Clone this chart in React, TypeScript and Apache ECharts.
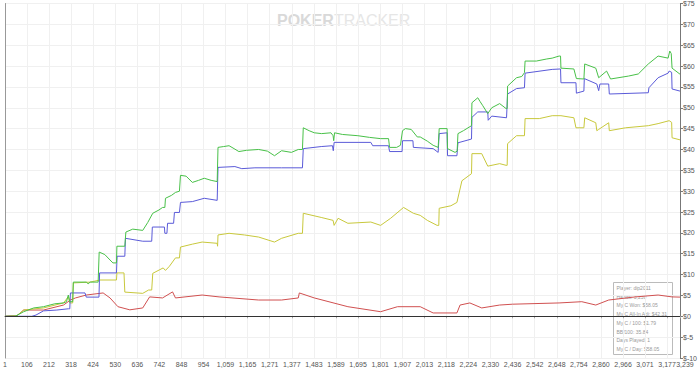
import React, { useEffect, useRef } from "react";
import * as echarts from "echarts";

const xTicks = [1, 106, 212, 318, 424, 530, 636, 742, 848, 954, 1059, 1165, 1271, 1377, 1483, 1589, 1695, 1801, 1907, 2013, 2118, 2224, 2330, 2436, 2542, 2648, 2754, 2860, 2966, 3071, 3177, 3239];
const yMin = -10;
const yMax = 75;
const yStep = 5;

const wonData: [number, number][] = [
  [1, 0], [50, 0], [91, 1.1], [139, 2.0], [186, 2.3], [240, 3.0], [282, 3.2], [296, 3.5], [305, 5.1], [312, 3.5], [326, 3.5], [329, 8.2],
  [391, 8.2], [400, 7.8], [410, 8.2], [448, 8.2], [453, 15.4], [480, 14.8], [505, 13.5], [519, 12.8], [536, 12.8], [538, 16.8],
  [576, 16.8], [581, 20.2], [614, 20.9], [662, 20.6], [686, 22.5], [710, 24.7], [740, 25.5], [757, 26.1], [768, 26.1], [771, 28.3],
  [800, 29.0], [819, 29.7], [838, 30.0], [843, 33.8], [870, 33.6], [900, 32.1], [930, 32.6], [957, 33.1], [990, 32.6], [1019, 32.3],
  [1021, 32.3], [1023, 40.5], [1050, 40.7], [1076, 40.9], [1100, 40.2], [1123, 39.5], [1160, 39.8], [1218, 40.0], [1260, 39.6],
  [1294, 38.5], [1328, 39.7], [1375, 39.3], [1408, 40.0], [1428, 40.0], [1432, 45.2], [1460, 44.5], [1485, 44.0], [1520, 43.8],
  [1565, 44.0], [1575, 43.3], [1578, 42.1], [1582, 44.0], [1620, 43.6], [1694, 43.3], [1750, 42.9], [1803, 42.6], [1841, 42.6],
  [1846, 40.5], [1880, 40.5], [1898, 41.0], [1908, 44.5], [1922, 45.0], [1950, 44.8], [1979, 43.0], [1993, 43.0], [2027, 42.0],
  [2055, 41.0], [2079, 40.5], [2082, 40.5], [2084, 45.0], [2122, 45.0], [2124, 40.2], [2160, 39.3], [2170, 39.6], [2174, 43.8],
  [2200, 44.5], [2239, 45.7], [2241, 51.2], [2269, 52.4], [2280, 51.5], [2293, 50.5], [2317, 48.6], [2336, 50.0], [2374, 51.0],
  [2405, 49.8], [2410, 49.8], [2412, 55.2], [2455, 57.2], [2480, 57.5], [2493, 58.4], [2496, 61.2], [2550, 61.2], [2600, 61.7],
  [2626, 61.9], [2659, 62.4], [2666, 62.4], [2668, 59.5], [2730, 59.3], [2742, 57.0], [2778, 56.9], [2780, 56.9], [2782, 60.5],
  [2835, 59.5], [2849, 57.2], [2887, 58.8], [2906, 56.9], [2992, 57.6], [3039, 58.1], [3087, 60.5], [3134, 62.4], [3182, 61.9],
  [3190, 63.6], [3197, 63.0], [3201, 59.5], [3239, 58.05],
];

const showdownData: [number, number][] = [
  [1, 0], [130, 0], [150, 0.3], [186, 1.3], [250, 1.5], [305, 1.8], [312, 1.8], [315, 5.6], [385, 5.6], [391, 4.6], [452, 4.6],
  [455, 10.4], [536, 10.4], [539, 14.4], [576, 14.4], [579, 18.7], [662, 18.0], [705, 18.0], [708, 21.4], [766, 21.4], [768, 19.9],
  [778, 19.9], [781, 22.3], [810, 22.3], [814, 24.9], [838, 24.9], [843, 27.3], [900, 27.5], [957, 28.3], [1019, 27.8], [1021, 27.8],
  [1023, 35.7], [1104, 35.9], [1137, 35.4], [1200, 35.6], [1328, 35.6], [1428, 35.6], [1432, 40.2], [1518, 40.7], [1572, 40.9],
  [1576, 39.7], [1580, 41.7], [1756, 41.7], [1765, 40.9], [1841, 40.9], [1846, 39.5], [1906, 39.5], [1908, 42.1], [1958, 42.1],
  [1960, 40.5], [2055, 40.2], [2079, 39.3], [2082, 39.3], [2084, 43.8], [2122, 44.0], [2124, 38.5], [2169, 38.5], [2174, 41.6],
  [2239, 42.5], [2241, 47.7], [2269, 49.0], [2317, 49.0], [2319, 47.0], [2336, 48.0], [2407, 47.6], [2410, 47.6], [2412, 53.3],
  [2455, 54.6], [2493, 54.8], [2496, 58.3], [2626, 59.2], [2666, 59.3], [2668, 56.0], [2740, 56.0], [2742, 53.5], [2778, 54.0],
  [2780, 57.0], [2840, 55.7], [2849, 54.1], [2855, 55.7], [2897, 55.7], [2900, 53.3], [3087, 53.6], [3090, 54.8], [3134, 57.2],
  [3182, 58.3], [3187, 58.8], [3199, 58.5], [3201, 54.5], [3239, 54.0],
];

const allInAdjData: [number, number][] = [
  [1, 0], [60, 0.2], [91, 1.5], [186, 2.0], [282, 3.2], [305, 4.7], [312, 3.2], [326, 3.2], [329, 8.0], [410, 8.2], [457, 8.7],
  [536, 8.7], [538, 10.4], [572, 10.4], [576, 5.8], [662, 5.5], [690, 6.3], [705, 6.3], [710, 10.3], [760, 11.6], [771, 11.0],
  [790, 12.0], [819, 14.0], [838, 14.0], [843, 16.6], [900, 17.3], [947, 17.8], [1019, 17.5], [1021, 16.8], [1023, 19.5],
  [1076, 19.9], [1150, 19.5], [1218, 19.0], [1294, 17.8], [1328, 18.7], [1408, 19.9], [1428, 19.9], [1432, 24.7], [1518, 23.7],
  [1575, 23.0], [1580, 21.8], [1599, 23.5], [1646, 22.3], [1756, 22.6], [1803, 21.8], [1851, 23.5], [1913, 26.1], [1960, 24.7],
  [1993, 24.2], [2027, 23.0], [2074, 21.8], [2082, 21.8], [2084, 25.9], [2140, 26.5], [2169, 27.3], [2193, 32.5], [2239, 34.2],
  [2241, 39.0], [2288, 39.0], [2317, 36.0], [2374, 36.6], [2405, 36.2], [2410, 36.2], [2412, 41.4], [2455, 43.3], [2493, 43.3],
  [2496, 47.4], [2564, 47.4], [2626, 48.1], [2668, 48.1], [2730, 47.6], [2740, 45.2], [2778, 45.2], [2782, 47.6], [2835, 46.4],
  [2840, 44.5], [2849, 44.8], [2897, 46.4], [2900, 44.5], [2978, 45.2], [3087, 45.7], [3134, 46.2], [3187, 46.9], [3199, 46.5],
  [3201, 42.8], [3239, 42.31],
];

const nonShowdownData: [number, number][] = [
  [1, 0], [60, 0.2], [91, 1.5], [186, 1.5], [282, 2.7], [315, 3.9], [339, 4.4], [391, 5.1], [472, 5.6], [505, 4.4], [543, 2.3],
  [600, 1.55], [662, 2.0], [695, 4.65], [757, 4.4], [805, 5.85], [819, 4.4], [947, 5.1], [1028, 4.65], [1218, 3.9], [1328, 3.9],
  [1408, 4.4], [1413, 5.6], [1485, 4.4], [1646, 2.3], [1803, 1.1], [1884, 2.3], [1993, 2.3], [2055, 0.8], [2169, 0.8], [2184, 2.7],
  [2231, 3.2], [2288, 2.0], [2374, 2.7], [2436, 2.9], [2659, 3.2], [2768, 3.5], [2835, 2.7], [2897, 3.9], [3025, 4.65], [3134, 5.1],
  [3201, 4.65], [3239, 4.6],
];

const statLines = [
  "Player: dip2011",
  "Hands: 3,239",
  "My C Won: $58.05",
  "My C All-In Adj: $42.31",
  "My C / 100: $1.79",
  "BB/100: 35.84",
  "Days Played: 1",
  "My C / Day: $58.05",
];

const FONT = "'Liberation Sans', Arial, sans-serif";
const fmtHand = (v: number) => Math.round(v).toLocaleString("en-US");

export default function App() {
  const ref = useRef<HTMLDivElement>(null);
  useEffect(() => {
    document.body.style.margin = "0";
    const chart = echarts.init(ref.current!, null, { renderer: "svg" });
    const lineSeries = (name: string, data: [number, number][], color: string, extra: any = {}) => ({
      name,
      type: "line",
      data,
      showSymbol: false,
      symbol: "none",
      lineStyle: { color, width: 1 },
      itemStyle: { color },
      silent: true,
      ...extra,
    });
    const lastTick = xTicks[xTicks.length - 1];
    chart.setOption({
      animation: false,
      backgroundColor: "#ffffff",
      textStyle: { fontFamily: FONT },
      grid: { left: 1, right: 18, top: 1, bottom: 12, containLabel: false },
      xAxis: {
        type: "value",
        min: xTicks[0],
        max: lastTick,
        axisLine: { show: true, lineStyle: { color: "#999999", width: 1 } },
        axisTick: { show: true, customValues: xTicks, length: 2, lineStyle: { color: "#aaaaaa" } },
        axisLabel: {
          customValues: xTicks.slice(0, -1),
          fontSize: 7,
          color: "#555555",
          margin: 3,
          fontFamily: FONT,
          hideOverlap: false,
          showMinLabel: true,
          formatter: fmtHand,
        },
        splitLine: { show: true, lineStyle: { color: "#f0f0f0", width: 1 } },
      },
      yAxis: [
        {
          type: "value",
          position: "right",
          min: yMin,
          max: yMax,
          interval: yStep,
          axisLine: { show: true, lineStyle: { color: "#777777", width: 1 } },
          axisTick: { show: true, length: 3, lineStyle: { color: "#777777" } },
          axisLabel: {
            fontSize: 7,
            color: "#555555",
            margin: 3,
            fontFamily: FONT,
            showMinLabel: true,
            showMaxLabel: true,
            formatter: (v: number) => "$" + v,
          },
          splitLine: { show: true, lineStyle: { color: "#f0f0f0", width: 1 } },
        },
        {
          type: "value",
          position: "left",
          min: yMin,
          max: yMax,
          interval: yStep,
          axisLine: { show: true, lineStyle: { color: "#999999", width: 1 } },
          axisTick: { show: false },
          axisLabel: { show: false },
          splitLine: { show: false },
        },
      ],
      series: [
        lineSeries("Non-Showdown Winnings", nonShowdownData, "#d05050", {
          markLine: {
            silent: true,
            symbol: "none",
            label: { show: false },
            lineStyle: { color: "#333333", type: "solid", width: 1 },
            data: [{ yAxis: 0 }],
          },
        }),
        lineSeries("My C All-In Adj", allInAdjData, "#c8c83c"),
        lineSeries("Showdown Winnings", showdownData, "#5a5ad8"),
        lineSeries("My C Won", wonData, "#48c048", {
          markLine: {
            silent: true,
            symbol: "none",
            lineStyle: { color: "rgba(0,0,0,0)", width: 1, type: "solid" },
            label: {
              show: true,
              position: "start",
              distance: 3,
              offset: [5, 0],
              fontSize: 7,
              color: "#555555",
              opacity: 1,
              fontFamily: FONT,
              formatter: () => fmtHand(lastTick),
            },
            data: [{ xAxis: lastTick }],
          },
        }),
      ],
      graphic: [
        {
          type: "text",
          left: 277,
          top: 12,
          silent: true,
          style: {
            text: "{b|POKER}{n|TRACKER}",
            rich: {
              b: { fontSize: 16, fontWeight: "bold", fill: "#d9d9d9", fontFamily: FONT },
              n: { fontSize: 16, fontWeight: "normal", fill: "#e6e6e6", fontFamily: FONT },
            },
          },
        },
        {
          type: "group",
          left: 613,
          top: 282,
          silent: true,
          children: [
            {
              type: "rect",
              shape: { x: 0, y: 0, width: 59, height: 72 },
              style: { fill: "rgba(255,255,255,0)", stroke: "#bbbbbb", lineWidth: 1 },
            },
            ...statLines.map((t, i) => ({
              type: "text",
              x: 3,
              y: 3 + i * 8.7,
              style: { text: t, fontSize: 5, fill: "#999999", fontFamily: FONT },
            })),
          ],
        },
      ],
    });
    return () => chart.dispose();
  }, []);
  return <div ref={ref} style={{ width: 700, height: 370 }} />;
}
